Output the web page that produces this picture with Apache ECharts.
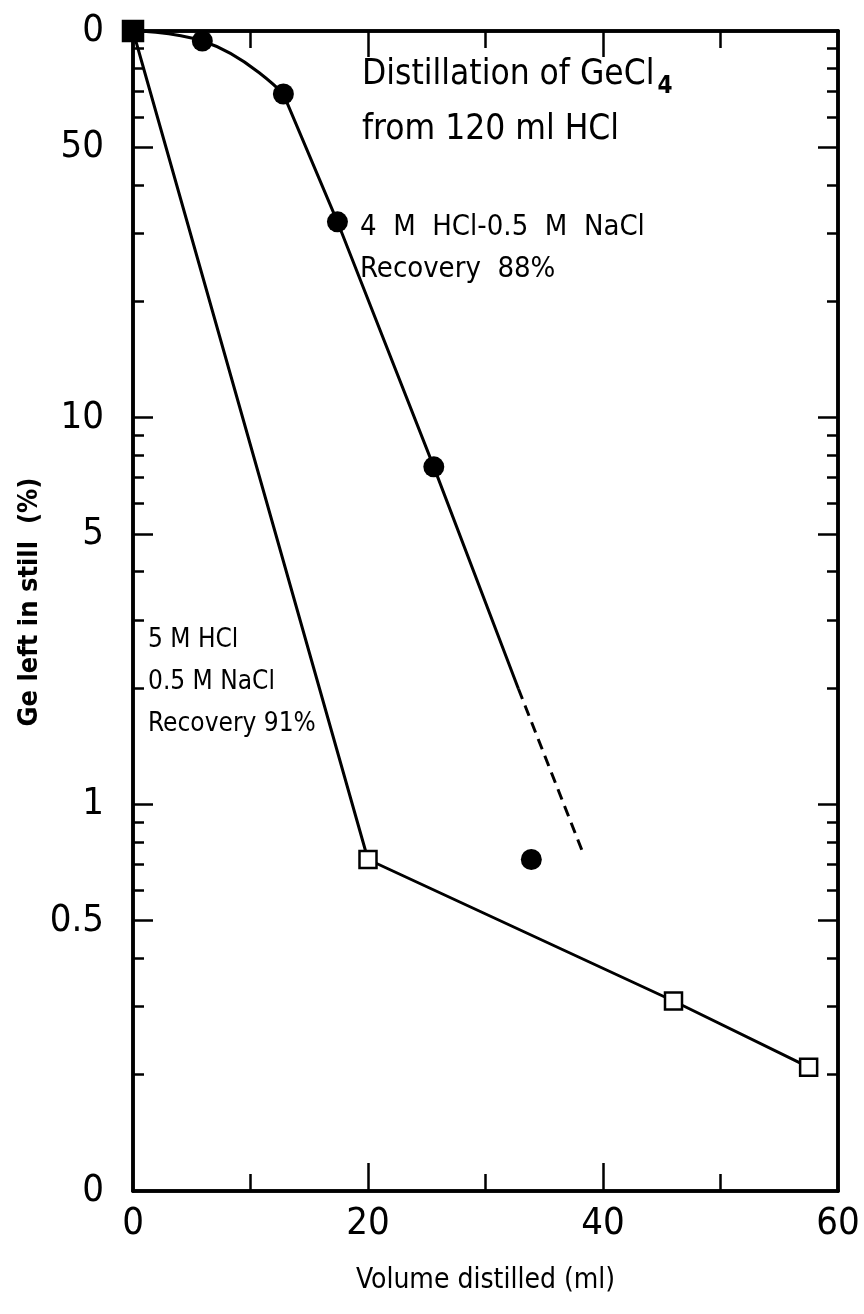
<!DOCTYPE html>
<html>
<head>
<meta charset="utf-8">
<script src="https://cdn.jsdelivr.net/npm/echarts@6/dist/echarts.min.js"></script>
<style>
  html, body { margin: 0; padding: 0; background: #fff; }
  #chart { width: 864px; height: 1314px; }
</style>
</head>
<body>
<div id="chart"></div>
<script>
// 4 M HCl - 0.5 M NaCl run (filled circles)
const naclVolume = [0, 5.9, 12.8, 17.4, 25.6, 33.9];
const naclLeft = [100, 94.2, 68.7, 32.1, 7.46, 0.72];
// hand-drawn curve: rounded start, then straight, then dashed extrapolation
const naclBendVolume = [0, 5.9, 12.8];
const naclBendLeft = [100, 94.2, 68.7];
const naclStraightVolume = [12.8, 17.4, 25.6, 32.8];
const naclStraightLeft = [68.7, 32.1, 7.46, 1.99];
const naclDashVolume = [32.8, 38.4];
const naclDashLeft = [1.99, 0.735];
// 5 M HCl - 0.5 M NaCl run (open squares)
const hclVolume = [0, 20, 46, 57.5];
const hclLeft = [100, 0.72, 0.31, 0.209];

const xLabelValues = [0, 20, 40, 60];
const xMajorTicks = [20, 40];
const xMinorTicks = [10, 30, 50];
const yLabelValues = [0.1, 0.5, 1, 5, 10, 50, 100];
const yLabelTexts = ['0', '0.5', '1', '5', '10', '50', '0'];
const yMajorTicks = [0.5, 1, 5, 10, 50];
const yMinorTicks = [0.2, 0.3, 0.4, 0.6, 0.7, 0.8, 0.9, 2, 3, 4, 6, 7, 8, 9, 20, 30, 40, 60, 70, 80, 90];

const FONT = '"DejaVu Sans Condensed", "DejaVu Sans", sans-serif';

function pairs(xs, ys) {
    return xs.map((x, i) => [x, ys[i]]);
}

const chart = echarts.init(document.getElementById('chart'));

const baseLine = { show: true, onZero: false, lineStyle: { color: '#000', width: 3.5 } };
const tickStyle = { color: '#000', width: 2.5 };

function yAxis(position, ticks, len, labels) {
    return {
        type: 'log',
        logBase: 10,
        min: 0.1,
        max: 100,
        position: position,
        axisLine: baseLine,
        splitLine: { show: false },
        minorTick: { show: false },
        axisTick: { show: true, inside: true, length: len, customValues: ticks, lineStyle: tickStyle },
        axisLabel: labels ? {
            show: true,
            customValues: yLabelValues,
            formatter: v => {
                const i = yLabelValues.findIndex(t => Math.abs(t - v) / t < 1e-6);
                return i >= 0 ? yLabelTexts[i] : '';
            },
            fontFamily: FONT, fontSize: 38, color: '#000', margin: 29
        } : { show: false }
    };
}

function xAxis(position, ticks, len, labels) {
    return {
        type: 'value',
        min: 0,
        max: 60,
        interval: 10,
        position: position,
        axisLine: baseLine,
        splitLine: { show: false },
        axisTick: { show: true, inside: true, length: len, customValues: ticks, lineStyle: tickStyle },
        axisLabel: labels ? {
            show: true,
            customValues: xLabelValues,
            fontFamily: FONT, fontSize: 38, color: '#000', margin: 14
        } : { show: false },
        name: labels ? 'Volume distilled (ml)' : '',
        nameLocation: 'middle',
        nameGap: 76,
        nameTextStyle: { fontFamily: FONT, fontSize: 28, color: '#000' }
    };
}

const option = {
    backgroundColor: '#fff',
    animation: false,
    grid: { left: 133, right: 26, top: 31, bottom: 123, containLabel: false },
    xAxis: [
        xAxis('bottom', xMajorTicks, 28, true),
        xAxis('bottom', xMinorTicks, 17, false),
        xAxis('top', xMajorTicks, 26, false),
        xAxis('top', xMinorTicks, 17, false)
    ],
    yAxis: [
        yAxis('left', yMajorTicks, 20, true),
        yAxis('left', yMinorTicks, 11, false),
        yAxis('right', yMajorTicks, 20, false),
        yAxis('right', yMinorTicks, 11, false)
    ],
    series: [
        {
            type: 'line',
            data: pairs(naclBendVolume, naclBendLeft),
            smooth: 0.5,
            showSymbol: false,
            lineStyle: { color: '#000', width: 3 },
            z: 3
        },
        {
            type: 'line',
            data: pairs(naclStraightVolume, naclStraightLeft),
            showSymbol: false,
            lineStyle: { color: '#000', width: 3 },
            z: 3
        },
        {
            type: 'line',
            data: pairs(naclDashVolume, naclDashLeft),
            showSymbol: false,
            lineStyle: { color: '#000', width: 3, type: [11, 7] },
            z: 3
        },
        {
            type: 'line',
            data: pairs(hclVolume, hclLeft),
            showSymbol: false,
            lineStyle: { color: '#000', width: 3 },
            z: 3
        },
        {
            type: 'scatter',
            data: pairs(naclVolume, naclLeft),
            symbol: 'circle',
            symbolSize: 21,
            itemStyle: { color: '#000', opacity: 1 },
            z: 4
        },
        {
            type: 'scatter',
            data: pairs(hclVolume, hclLeft).map((p, i) => i === 0
                ? { value: p, symbolSize: 20, itemStyle: { color: '#000' } }
                : p),
            symbol: 'rect',
            symbolSize: 17,
            itemStyle: { color: '#fff', borderColor: '#000', borderWidth: 2.5, opacity: 1 },
            z: 5
        }
    ],
    graphic: [
        {
            type: 'text', left: 362, top: 57,
            style: {
                text: '{a|Distillation of GeCl}{s|4}\n{a|from 120 ml HCl}',
                rich: {
                    a: { fontFamily: FONT, fontSize: 35, fill: '#000', lineHeight: 55 },
                    s: { fontFamily: FONT, fontSize: 24, fontWeight: 'bold', fill: '#000', padding: [24, 0, 0, 3] }
                }
            }
        },
        {
            type: 'text', left: 360, top: 206,
            style: {
                text: '4  M  HCl-0.5  M  NaCl\nRecovery  88%',
                font: '29px ' + FONT, fill: '#000', lineHeight: 42
            }
        },
        {
            type: 'text', left: 148, top: 619,
            style: {
                text: '5 M HCl\n0.5 M NaCl\nRecovery 91%',
                font: '26px ' + FONT, fill: '#000', lineHeight: 42
            }
        },
        {
            type: 'text', x: 30, y: 602, rotation: Math.PI / 2,
            style: {
                text: 'Ge left in still  (%)',
                font: 'bold 27px ' + FONT, fill: '#000',
                align: 'center', verticalAlign: 'middle'
            }
        }
    ]
};

chart.setOption(option);
</script>
</body>
</html>
